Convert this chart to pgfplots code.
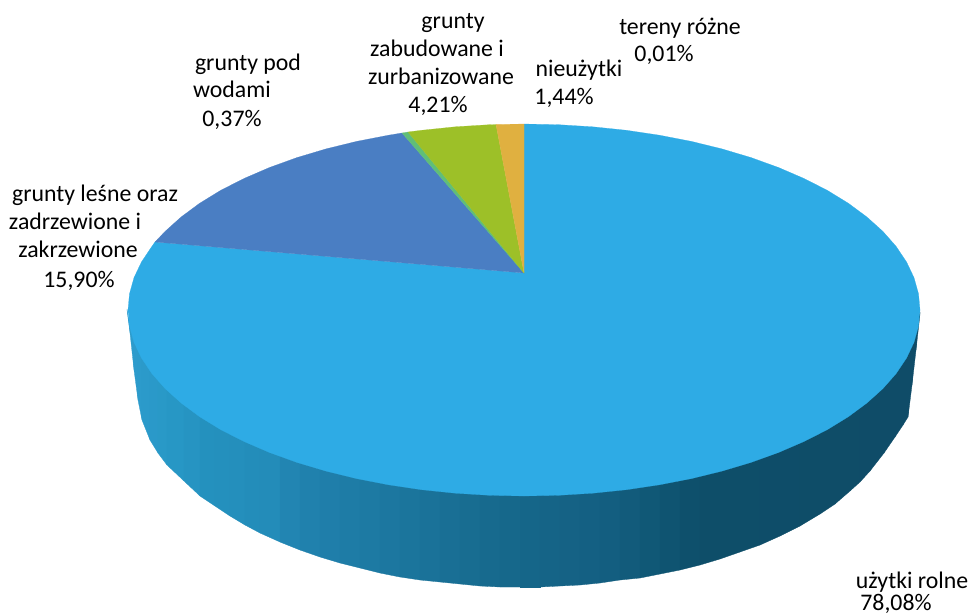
\documentclass[border=0pt]{standalone}
\usepackage{pgfplots}
\pgfplotsset{compat=1.18}
\usepackage{fontspec}
\setmainfont{Carlito}
\definecolor{rolne}{RGB}{46,171,229}
\definecolor{lesne}{RGB}{74,126,195}
\definecolor{wody}{RGB}{96,190,120}
\definecolor{zabud}{RGB}{157,192,40}
\definecolor{nieuz}{RGB}{224,176,64}
\pgfplotsset{
  colormap={side}{
    rgb255(127)=(46,156,205)
    rgb255(170)=(40,152,198)
    rgb255(210)=(36,145,190)
    rgb255(270)=(35,140,185)
    rgb255(300)=(33,130,175)
    rgb255(400)=(28,118,158)
    rgb255(500)=(22,105,140)
    rgb255(600)=(20,95,130)
    rgb255(650)=(16,88,118)
    rgb255(700)=(14,78,105)
    rgb255(920)=(15,76,104)
  }
}
\newcommand{\lab}[3]{\node[anchor=base,inner sep=0pt,font=\fontsize{23.8}{28}\selectfont] at (axis cs:#1,#2) {#3};}
\begin{document}
\begin{tikzpicture}
\begin{axis}[
  scale only axis,width=973pt,height=615pt,
  xmin=0,xmax=973,ymin=0,ymax=615,y dir=reverse,
  hide axis,clip=false,
  colormap name=side,
]
% side of the pie (dark rim), top and bottom edge in pixel coordinates
\addplot[surf,shader=faceted,faceted color=mapped color,mesh/cols=2,point meta=x,line width=0.3pt] table {
x y
127 309
127 310
130 327
130 333
134 340
134 370
138 350
138 400
142 357
142 420
150 369
150 440
158 379
158 453
167 388
167 465
184 403
184 481
200 415
200 496
215 424
215 506
230 432
230 516
245 440
245 525
260 446
260 533
280 454
280 542
300 461
300 550
320 467
320 557
340 472
340 563
360 477
360 568
380 481
380 573
400 484
400 577
420 487
420 580
440 489
440 582
460 491
460 584
480 492
480 586
500 493
500 587
520 494
520 587
540 494
540 587
560 493
560 586
580 492
580 585
600 490
600 583
620 488
620 580
640 485
640 578
660 482
660 574
680 479
680 570
700 474
700 565
720 469
720 559
740 464
740 552
760 457
760 545
780 450
780 536
800 441
800 526
820 431
820 514
835 423
835 504
850 413
850 491
860 406
860 482
870 398
870 471
884 385
884 453
895 373
895 437
903 362
903 425
908 353
908 417
912 345
912 385
916 334
916 350
920 312
920 314
};
% upper face: one wedge per category
\addplot[fill=rolne,draw=rolne,line width=0.2pt] coordinates {
(524,273)(524,124)(558.5,124.7)(592.7,126.8)(626.5,130.3)(659.4,135.2)(691.4,141.4)(722,148.9)(751.1,157.6)(778.5,167.5)(804,178.5)(827.4,190.4)(848.4,203.3)(866.9,217)(882.9,231.4)(896.1,246.4)(906.5,261.9)(914,277.7)(918.5,293.8)(920,310)
(918.5,326.2)(914,342.3)(906.5,358.1)(896.1,373.6)(882.9,388.6)(866.9,403)(848.4,416.7)(827.4,429.6)(804,441.5)(778.5,452.5)(751.1,462.4)(722,471.1)(691.4,478.6)(659.4,484.8)(626.5,489.7)(592.7,493.2)(558.5,495.3)(524,496)
(489.5,495.3)(455.3,493.2)(421.5,489.7)(388.6,484.8)(356.6,478.6)(326,471.1)(296.9,462.4)(269.5,452.5)(244,441.5)(220.6,429.6)(199.6,416.7)(181.1,403)(165.1,388.6)(151.9,373.6)(141.5,358.1)(134,342.3)(129.5,326.2)(128,310)
(129.5,293.8)(134,277.7)(141.5,261.9)(151.9,246.4)(155,242)
} -- cycle;
\addplot[fill=lesne,draw=lesne,line width=0.2pt] coordinates {
(524,273)(155,242)(165.1,231.4)(181.1,217)(199.6,203.3)(220.6,190.4)(244,178.5)(269.5,167.5)(296.9,157.6)(326,148.9)(356.6,141.4)(388.6,135.2)(402,133)
} -- cycle;
\addplot[fill=wody,draw=wody,line width=0.2pt] coordinates {
(524,273)(402,133)(408,132)
} -- cycle;
\addplot[fill=zabud,draw=zabud,line width=0.2pt] coordinates {
(524,273)(408,132)(421.5,130.3)(455.3,126.8)(489.5,124.7)(496,124.5)
} -- cycle;
\addplot[fill=nieuz,draw=nieuz,line width=0.2pt] coordinates {
(524,273)(496,124.5)(524,124)
} -- cycle;
% labels
\lab{680}{35}{tereny różne}
\lab{664}{62}{0,01\%}
\lab{579}{77}{nieużytki}
\lab{564}{105}{1,44\%}
\lab{453}{29}{grunty}
\lab{437}{57}{zabudowane i}
\lab{441}{85}{zurbanizowane}
\lab{438}{113}{4,21\%}
\lab{248}{71}{grunty pod}
\lab{232}{98}{wodami}
\lab{232}{126}{0,37\%}
\lab{95}{201}{grunty leśne oraz}
\lab{75}{229}{zadrzewione i}
\lab{78}{257}{zakrzewione}
\lab{79}{287}{15,90\%}
\lab{912}{588}{użytki rolne}
\lab{896}{610}{78,08\%}
\end{axis}
\pgfresetboundingbox
\path (0,0) rectangle (973pt,615pt);
\end{tikzpicture}
\end{document}
